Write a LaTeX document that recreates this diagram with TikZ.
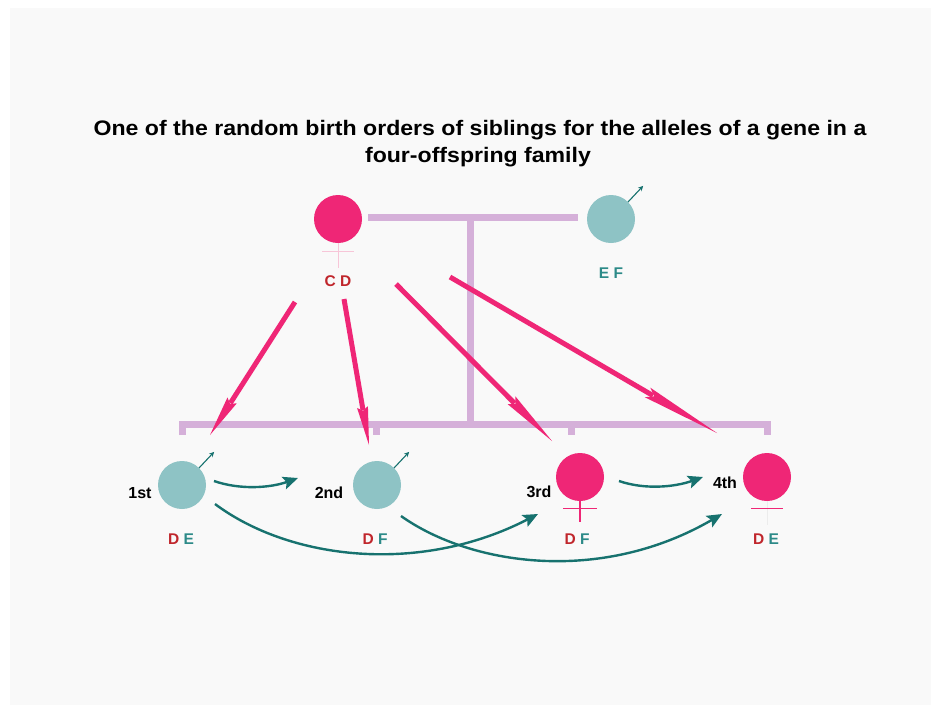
\documentclass[tikz,border=0pt]{standalone}
\usepackage{fontspec}
\setmainfont{Liberation Sans}
\usetikzlibrary{arrows.meta,calc}
\definecolor{pinkc}{HTML}{EF2676}
\definecolor{tealc}{HTML}{8EC3C5}
\definecolor{darkteal}{HTML}{17726F}
\definecolor{purplec}{HTML}{D5B0D9}
\definecolor{redl}{HTML}{C0262C}
\definecolor{teall}{HTML}{2C8A88}
\definecolor{bgc}{HTML}{F9F9F9}
\definecolor{faintpink}{HTML}{F7C6D8}
\definecolor{faintgray}{HTML}{ECECEC}
\tikzset{
  female/.style={circle, fill=pinkc, minimum size=48pt, inner sep=0pt},
  male/.style={circle, fill=tealc, minimum size=48pt, inner sep=0pt},
  famline/.style={draw=purplec, line width=7pt},
  pinkline/.style={draw=pinkc, line width=5pt},
  birtharrow/.style={draw=darkteal, line width=2.4pt, -{Stealth[length=15pt, width=13pt, inset=3pt]}},
  malesym/.style={draw=darkteal, line width=1.1pt, -{Stealth[length=5pt, width=5pt]}},
  ordlabel/.style={font=\bfseries\fontsize{16}{18}\selectfont, text=black, inner sep=0pt, anchor=base},
  geno/.style={font=\bfseries\fontsize{15.5}{18}\selectfont, inner sep=0pt, anchor=base},
  titlefont/.style={font=\bfseries\fontsize{21}{27}\selectfont, inner sep=0pt, anchor=base}
}
% pink transmission arrow: #1 start, #2 end (named coordinates)
\newcommand{\pinkarr}[2]{%
  \path ($(#1)!0.74!(#2)$) coordinate (#1-barb) ($(#1)!0.765!(#2)$) coordinate (#1-notch);
  \draw[pinkline] (#1) -- ($(#1)!0.76!(#2)$);
  \fill[pinkc] (#2) -- ($(#1-barb)!5.5pt!90:(#2)$) -- (#1-notch) -- ($(#1-barb)!5.5pt!-90:(#2)$) -- cycle;
}
\begin{document}
\begin{tikzpicture}[x=1pt, y=-1pt]
\useasboundingbox (0,0) rectangle (931,705);
\fill[white] (0,0) rectangle (931,705);
\fill[bgc] (10,8) rectangle (931,705);

% title
\node[titlefont] (t1) at (480,135) {\scalebox{1.1}[1]{One of the random birth orders of siblings for the alleles of a gene in a}};
\node[titlefont] (t2) at (478,162) {\scalebox{1.1}[1]{four-offspring family}};

% parents
\node[female] (mother) at (338,219) {};
\node[male] (father) at (611,219) {};
\draw[faintpink, line width=0.9pt] (mother.south) -- ++(0,25);
\draw[faintpink, line width=0.9pt] ($(mother.south)+(-16,8)$) -- ++(32,0);
\draw[malesym] (father.45) -- ++(15,-16);
\node[geno] (gm) at (338,286) {\textcolor{redl}{C D}};
\node[geno] (gf) at (611,278) {\textcolor{teall}{E F}};

% marriage & sibship lines
\coordinate (m1) at (368,217);
\coordinate (m2) at (578,217);
\coordinate (mj) at (470,217);
\coordinate (sj) at (470,421);
\draw[famline] (m1) -- (m2);
\draw[famline] (mj) -- (sj);
\coordinate (s1) at (182,421);
\coordinate (s2) at (376,421);
\coordinate (s3) at (571,421);
\coordinate (s4) at (767,421);
\draw[famline] ($(s1)+(0,14)$) -- ([yshift=-3.5pt]s1) -- ([yshift=-3.5pt]s4) -- ($(s4)+(0,14)$);
\draw[famline] (s2) -- ++(0,14);
\draw[famline] (s3) -- ++(0,14);

% children
\node[male] (c1) at (182,485) {};
\node[male] (c2) at (377,485) {};
\node[female] (c3) at (580,477) {};
\node[female] (c4) at (767,477) {};
\draw[malesym] (c1.45) -- ++(15,-16);
\draw[malesym] (c2.45) -- ++(15,-16);
\draw[pinkc, line width=1.4pt] (c3.south) -- ++(0,21);
\draw[pinkc, line width=1.4pt] ($(c3.south)+(-17,7)$) -- ++(34,0);
\draw[faintgray, line width=0.8pt] (c4.south) -- ++(0,24);
\draw[pinkc, line width=1.4pt] ($(c4.south)+(-16,7)$) -- ++(32,0);

\node[ordlabel] (o1) at (140,498) {1st};
\node[ordlabel] (o2) at (329,498) {2nd};
\node[ordlabel] (o3) at (539,497) {3rd};
\node[ordlabel] (o4) at (725,488) {4th};

\node[geno] (g1) at (181,544) {\textcolor{redl}{D} \textcolor{teall}{E}};
\node[geno] (g2) at (375,544) {\textcolor{redl}{D} \textcolor{teall}{F}};
\node[geno] (g3) at (577,544) {\textcolor{redl}{D} \textcolor{teall}{F}};
\node[geno] (g4) at (766,544) {\textcolor{redl}{D} \textcolor{teall}{E}};

% pink transmission arrows
\coordinate (p1a) at (295,302); \coordinate (p1b) at (210,435);
\coordinate (p2a) at (344,299); \coordinate (p2b) at (369,445);
\coordinate (p3a) at (396,284); \coordinate (p3b) at (552,441);
\coordinate (p4a) at (450,277); \coordinate (p4b) at (717,433);
\pinkarr{p1a}{p1b}
\pinkarr{p2a}{p2b}
\pinkarr{p3a}{p3b}
\pinkarr{p4a}{p4b}

% birth order arrows
\coordinate (b1a) at (214,481); \coordinate (b1b) at (298,478);
\coordinate (b2a) at (619,481); \coordinate (b2b) at (703,477);
\draw[birtharrow] (b1a) .. controls (240,490) and (270,488) .. (b1b);
\draw[birtharrow] (b2a) .. controls (645,490) and (675,487) .. (b2b);
\coordinate (b3a) at (215,504); \coordinate (b3b) at (538,514);
\coordinate (b4a) at (401,516); \coordinate (b4b) at (722,514);
\draw[birtharrow] (b3a) .. controls (290,560) and (420,575) .. (b3b);
\draw[birtharrow] (b4a) .. controls (470,565) and (600,585) .. (b4b);
\end{tikzpicture}
\end{document}
